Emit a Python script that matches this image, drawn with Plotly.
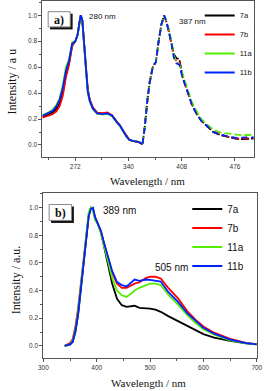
import plotly.graph_objects as go

# ---------------- Panel a) data ----------------
names = ["7a", "7b", "11a", "11b"]
colors = ["#000000", "#ff0000", "#55ee00", "#0022ff"]

ex_wl = [230, 236, 243, 248, 252, 256, 260, 264, 268, 272, 275, 277, 279, 281, 282.5, 284.3, 286, 288,
         290.5, 294.5, 300, 307, 313, 319, 325, 329, 333, 337.5, 341, 344, 347, 350, 354, 358]
ex_7a = [0.22, 0.23, 0.25, 0.28, 0.32, 0.40, 0.54, 0.63, 0.77, 0.80, 0.85, 0.93, 1.0, 0.96, 0.85, 0.68, 0.54,
         0.42, 0.345, 0.285, 0.245, 0.24, 0.245, 0.228, 0.178, 0.15, 0.11, 0.065, 0.04, 0.033, 0.03, 0.028, 0.02, 0.005]
ex_7b = [0.21, 0.22, 0.237, 0.26, 0.30, 0.38, 0.52, 0.62, 0.76, 0.80, 0.85, 0.94, 1.0, 0.96, 0.86, 0.69, 0.55,
         0.43, 0.35, 0.29, 0.25, 0.245, 0.25, 0.23, 0.18, 0.152, 0.112, 0.066, 0.04, 0.033, 0.03, 0.028, 0.02, 0.005]
ex_11a = [0.23, 0.245, 0.27, 0.31, 0.36, 0.46, 0.60, 0.66, 0.79, 0.80, 0.85, 0.93, 1.0, 0.95, 0.84, 0.66, 0.52,
          0.40, 0.335, 0.275, 0.24, 0.235, 0.24, 0.222, 0.172, 0.147, 0.108, 0.062, 0.04, 0.034, 0.032, 0.03, 0.022, 0.008]
ex_11b = [0.225, 0.24, 0.263, 0.30, 0.35, 0.44, 0.57, 0.65, 0.78, 0.80, 0.85, 0.93, 1.0, 0.96, 0.85, 0.67, 0.53,
          0.41, 0.34, 0.28, 0.243, 0.238, 0.243, 0.225, 0.175, 0.149, 0.11, 0.064, 0.04, 0.033, 0.03, 0.028, 0.02, 0.005]

em_wl = [358, 361, 364, 367, 371, 375, 378, 382, 385.5, 388, 391, 395, 398, 401, 405, 409, 415, 421, 427, 433,
         440, 448, 458, 468, 478, 488, 500]
em_7a = [0.01, 0.15, 0.34, 0.48, 0.60, 0.64, 0.78, 0.93, 1.0, 0.96, 0.89, 0.78, 0.70, 0.67, 0.66, 0.53, 0.42,
         0.315, 0.24, 0.187, 0.148, 0.10, 0.075, 0.06, 0.048, 0.045, 0.05]
em_7b = [0.01, 0.16, 0.35, 0.49, 0.61, 0.64, 0.78, 0.93, 0.99, 0.96, 0.89, 0.78, 0.68, 0.65, 0.65, 0.52, 0.42,
         0.31, 0.24, 0.19, 0.15, 0.105, 0.08, 0.063, 0.052, 0.05, 0.055]
em_11a = [0.01, 0.15, 0.34, 0.48, 0.60, 0.64, 0.78, 0.93, 1.0, 0.96, 0.90, 0.80, 0.69, 0.64, 0.62, 0.55, 0.44,
          0.33, 0.26, 0.20, 0.16, 0.12, 0.095, 0.085, 0.08, 0.075, 0.08]
em_11b = [0.01, 0.15, 0.34, 0.48, 0.60, 0.64, 0.78, 0.93, 1.0, 0.96, 0.89, 0.78, 0.67, 0.63, 0.62, 0.52, 0.42,
          0.31, 0.24, 0.185, 0.148, 0.10, 0.08, 0.063, 0.055, 0.055, 0.06]

# ---------------- Panel b) data ----------------
wl_b = [340, 350, 355, 360, 365, 370, 375, 380, 385, 389, 393, 397, 402, 408, 414, 420, 429, 438, 447, 456,
        465, 471, 480, 492, 500, 510, 520, 534, 552, 570, 585, 600, 620, 650, 680, 700]
b_7a = [0.0, 0.01, 0.03, 0.10, 0.22, 0.40, 0.60, 0.79, 0.94, 1.0, 0.99, 0.92, 0.885, 0.82, 0.72, 0.62, 0.45,
        0.34, 0.294, 0.282, 0.288, 0.29, 0.275, 0.272, 0.27, 0.262, 0.246, 0.215, 0.18, 0.14, 0.115, 0.085,
        0.06, 0.036, 0.018, 0.01]
b_7b = [0.0, 0.02, 0.05, 0.14, 0.27, 0.44, 0.63, 0.81, 0.95, 1.0, 0.99, 0.93, 0.885, 0.83, 0.74, 0.66, 0.53,
        0.45, 0.42, 0.42, 0.44, 0.45, 0.46, 0.49, 0.50, 0.50, 0.487, 0.42, 0.345, 0.25, 0.19, 0.14, 0.095,
        0.05, 0.022, 0.012]
b_11a = [0.0, 0.01, 0.04, 0.12, 0.25, 0.43, 0.63, 0.82, 0.97, 1.0, 0.98, 0.91, 0.88, 0.81, 0.71, 0.63, 0.49,
         0.40, 0.366, 0.354, 0.38, 0.40, 0.42, 0.44, 0.45, 0.45, 0.44, 0.37, 0.30, 0.22, 0.165, 0.12, 0.08,
         0.04, 0.018, 0.01]
b_11b = [0.0, 0.01, 0.03, 0.11, 0.23, 0.41, 0.61, 0.79, 0.94, 0.99, 1.0, 0.93, 0.89, 0.83, 0.74, 0.66, 0.54,
         0.462, 0.44, 0.43, 0.46, 0.48, 0.47, 0.48, 0.477, 0.47, 0.465, 0.39, 0.32, 0.235, 0.18, 0.13, 0.088,
         0.045, 0.02, 0.01]

x_ticks_a = [272, 340, 408, 476]
x_ticks_b = [300, 400, 500, 600, 700]
y_ticks = [0.0, 0.2, 0.4, 0.6, 0.8, 1.0]

ex_series = [ex_7a, ex_7b, ex_11a, ex_11b]
em_series = [em_7a, em_7b, em_11a, em_11b]
b_series = [b_7a, b_7b, b_11a, b_11b]
dashes = ["8px,2px", "6px,4px", "7px,3px", "6px,4px"]

W, H = 270, 391
fig = go.Figure()

for n, c, ys in zip(names, colors, ex_series):
    fig.add_trace(go.Scatter(x=ex_wl, y=ys, mode="lines", name=n, legendgroup="a" + n,
                             line=dict(color=c, width=1.8), xaxis="x", yaxis="y", legend="legend"))
for n, c, ys, d in zip(names, colors, em_series, dashes):
    fig.add_trace(go.Scatter(x=em_wl, y=ys, mode="lines", name=n, legendgroup="a" + n, showlegend=False,
                             line=dict(color=c, width=1.8, dash=d), xaxis="x", yaxis="y"))
for n, c, ys in zip(names, colors, b_series):
    fig.add_trace(go.Scatter(x=wl_b, y=ys, mode="lines", name=n,
                             line=dict(color=c, width=1.8), xaxis="x2", yaxis="y2", legend="legend2"))

axis_common = dict(showline=True, linecolor="#555555", linewidth=1, mirror=True, ticks="outside",
                   ticklen=3, tickwidth=1, tickcolor="#555555", showgrid=False, zeroline=False,
                   tickfont=dict(family="Liberation Sans", size=6.5, color="#333333"))

fig.update_layout(
    width=W, height=H, margin=dict(l=0, r=0, t=0, b=0),
    paper_bgcolor="white", plot_bgcolor="white",
    xaxis=dict(domain=[39 / W, 259.3 / W], range=[230, 500], tickvals=x_ticks_a, anchor="y",
               minor=dict(dtick=34, tick0=238, ticks="outside", ticklen=2, tickcolor="#555555"),
               **axis_common),
    yaxis=dict(domain=[(H - 156.7) / H, 1.0], range=[-0.095, 1.11], tickvals=y_ticks, tickformat=".1f",
               anchor="x", minor=dict(dtick=0.1, tick0=0, ticks="outside", ticklen=2, tickcolor="#555555"),
               **axis_common),
    xaxis2=dict(domain=[40 / W, 262.5 / W], range=[300, 700], tickvals=x_ticks_b, anchor="y2",
                minor=dict(dtick=50, tick0=300, ticks="outside", ticklen=2, tickcolor="#555555"),
                **axis_common),
    yaxis2=dict(domain=[(H - 358.3) / H, (H - 192.7) / H], range=[-0.091, 1.105], tickvals=y_ticks,
                tickformat=".1f", anchor="x2",
                minor=dict(dtick=0.1, tick0=0, ticks="outside", ticklen=2, tickcolor="#555555"),
                **axis_common),
    legend=dict(x=203 / W, y=1.0, xanchor="left", yanchor="top", bgcolor="rgba(0,0,0,0)",
                font=dict(family="Liberation Sans", size=7.5, color="#111111"), tracegroupgap=0),
    legend2=dict(x=190 / W, y=(H - 194) / H, xanchor="left", yanchor="top", bgcolor="rgba(0,0,0,0)",
                 font=dict(family="Liberation Sans", size=10, color="#111111"), tracegroupgap=0),
    showlegend=True,
)

serif = "Liberation Serif"
sans = "Liberation Sans"

def px(x, y):
    return x / W, (H - y) / H

ann = []
def add_text(text, x, y, size, family, angle=0, bold=False):
    xx, yy = px(x, y)
    ann.append(dict(text=("<b>%s</b>" % text) if bold else text, x=xx, y=yy, xref="paper", yref="paper",
                    showarrow=False, textangle=angle, xanchor="center", yanchor="middle",
                    font=dict(family=family, size=size, color="#111111")))

add_text("Intensity / a u", 7, 81, 12, serif, angle=-90)
add_text("Intensity / a.u.", 11.5, 280, 12, serif, angle=-90)
add_text("Wavelength / nm", 149, 180, 11, serif)
add_text("Wavelength / nm", 150, 383, 11, serif)
add_text("280 nm", 102, 16, 8, sans)
add_text("387 nm", 195.5, 20.7, 8, sans)
add_text("389 nm", 119, 210, 10, sans)
add_text("505 nm", 174, 266.7, 10, sans)

shapes = []
def label_box(x0, y0, x1, y1, text):
    a0 = px(x0 + 2, y1 + 2.5)
    a1 = px(x1 + 2.5, y0 + 2)
    shapes.append(dict(type="rect", xref="paper", yref="paper", x0=a0[0], y0=a0[1], x1=a1[0], y1=a1[1],
                       fillcolor="#111111", line=dict(width=0), layer="above"))
    b0 = px(x0, y1)
    b1 = px(x1, y0)
    shapes.append(dict(type="rect", xref="paper", yref="paper", x0=b0[0], y0=b0[1], x1=b1[0], y1=b1[1],
                       fillcolor="white", line=dict(color="#888888", width=1), layer="above"))
    add_text(text, (x0 + x1) / 2, (y0 + y1) / 2 + 0.5, 12, serif, bold=True)

label_box(45, 10.7, 68, 26, "a)")
label_box(46, 204, 69.3, 220, "b)")

fig.update_layout(annotations=ann, shapes=shapes)
fig.write_html("out.html", config={"displayModeBar": False},
               post_script="document.body.style.margin='0px';document.body.style.overflow='hidden';")
